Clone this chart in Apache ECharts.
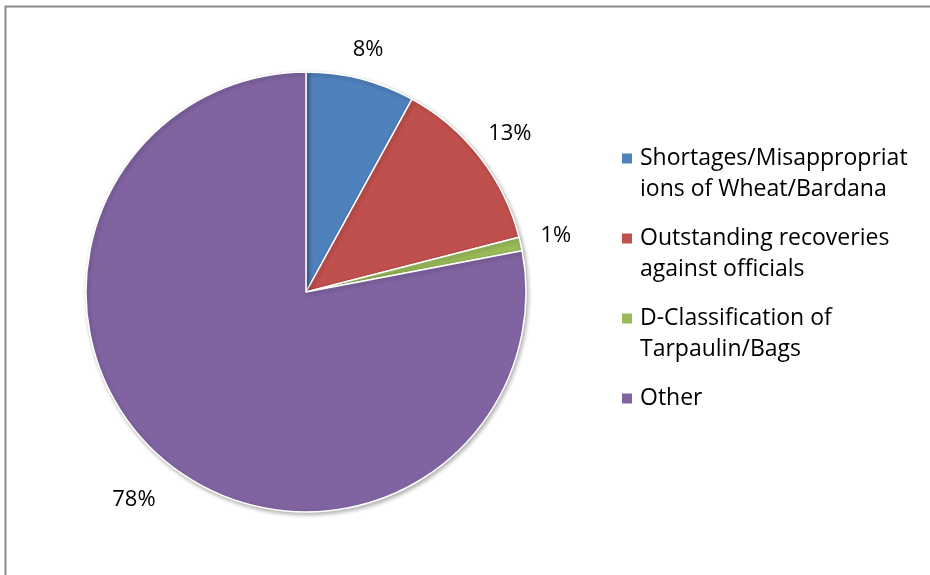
<!DOCTYPE html>
<html>
<head>
<meta charset="utf-8">
<script src="https://cdn.jsdelivr.net/npm/echarts@6/dist/echarts.min.js"></script>
<style>
  html, body { margin: 0; padding: 0; background: #fff; }
  #chart { width: 930px; height: 575px; }
</style>
</head>
<body>
<div id="chart"></div>
<script>
// Share of audit paras by category
const categories = [
  'Shortages/Misappropriations of Wheat/Bardana',
  'Outstanding recoveries against officials',
  'D-Classification of Tarpaulin/Bags',
  'Other'
];
const values = [8, 13, 1, 78];
// Legend text as wrapped in the chart area
const legendLines = [
  'Shortages/Misappropriat\nions of Wheat/Bardana',
  'Outstanding recoveries\nagainst officials',
  'D-Classification of\nTarpaulin/Bags',
  'Other'
];
const colors = ['#4F81BD', '#C0504D', '#9BBB59', '#8064A2'];

const FONT = 'Open Sans';
const PIE_R = 220;
const LINE_H = 31;
// distance of each percentage label's centre from the pie centre
const labelDistance = [250, 258, 256, 270];

// every legend entry is laid out as two text lines; the square marker
// sits beside the first line (icon box 12 x 62)
const LEGEND_ICON = 'path://M0,0 M0,9.5L12,9.5L12,21.5L0,21.5Z M0,62';

const chart = echarts.init(document.getElementById('chart'), null, { renderer: 'canvas' });

function placeLabel(params) {
  const data = chart.getModel().getSeriesByIndex(0).getData();
  const lay = data.getItemLayout(params.dataIndex);
  const mid = (lay.startAngle + lay.endAngle) / 2;
  const d = labelDistance[params.dataIndex];
  return {
    x: lay.cx + Math.cos(mid) * d,
    y: lay.cy + Math.sin(mid) * d,
    align: 'center',
    verticalAlign: 'middle'
  };
}

chart.setOption({
  animation: false,
  color: colors,
  graphic: [{
    type: 'rect',
    shape: { x: 5.5, y: 6.5, width: 940, height: 600 },
    style: { fill: 'none', stroke: '#8c8c8c', lineWidth: 2 },
    silent: true
  }],
  legend: {
    orient: 'vertical',
    left: 620,
    top: 142,
    padding: 0,
    itemWidth: 12,
    itemHeight: 2 * LINE_H,
    itemGap: 16,
    icon: LEGEND_ICON,
    formatter: name => {
      const t = legendLines[categories.indexOf(name)];
      return t.indexOf('\n') >= 0 ? t : t + '\n\u00a0';
    },
    textStyle: {
      fontFamily: FONT,
      fontSize: 23,
      lineHeight: LINE_H,
      color: '#000',
      padding: [0, 0, 0, 2]
    },
    data: categories
  },
  series: [{
    type: 'pie',
    center: [306, 292],
    radius: PIE_R,
    startAngle: 90,
    clockwise: true,
    avoidLabelOverlap: false,
    itemStyle: {
      borderColor: '#fff',
      borderWidth: 1.5,
      shadowBlur: 4,
      shadowOffsetX: 1.5,
      shadowOffsetY: 2,
      shadowColor: 'rgba(0,0,0,0.3)'
    },
    label: {
      show: true,
      position: 'outside',
      formatter: p => p.value + '%',
      fontFamily: FONT,
      fontSize: 22,
      color: '#000'
    },
    labelLine: { show: false },
    labelLayout: placeLabel,
    emphasis: { disabled: true },
    data: categories.map((c, i) => ({ name: c, value: values[i] }))
  }]
});
</script>
</body>
</html>
